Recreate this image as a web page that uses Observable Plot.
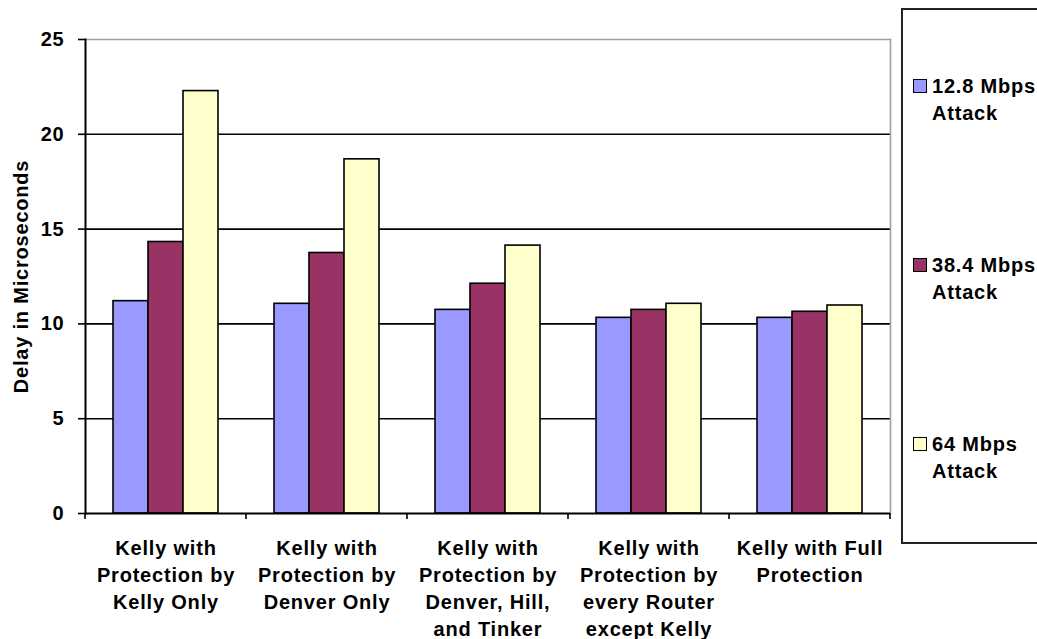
<!DOCTYPE html>
<html><head><meta charset="utf-8">
<script src="https://cdn.jsdelivr.net/npm/d3@7"></script>
<script src="https://cdn.jsdelivr.net/npm/@observablehq/plot@0.6"></script>
<style>
body{margin:0;background:#fff;font-family:"Liberation Sans",Arial,sans-serif;}
#wrap{position:relative;width:1037px;height:639px;overflow:hidden;background:#fff;}
#wrap svg text{letter-spacing:0.8px;}
#legend{position:absolute;left:901px;top:8px;width:160px;height:536px;border:2px solid #222;box-sizing:border-box;}
.entry{position:absolute;left:913px;font-size:20px;font-weight:bold;line-height:27px;color:#000;white-space:nowrap;letter-spacing:0.8px;}
.sw{position:absolute;left:0;top:6px;width:12px;height:12px;border:1.5px solid #000;}
.lab{position:absolute;left:19px;top:0;}
</style></head>
<body><div id="wrap"><div id="legend"></div></div>
<script>
const categories = [
  "Kelly with\nProtection by\nKelly Only",
  "Kelly with\nProtection by\nDenver Only",
  "Kelly with\nProtection by\nDenver, Hill,\nand Tinker",
  "Kelly with\nProtection by\nevery Router\nexcept Kelly",
  "Kelly with Full\nProtection"
];
const series = ["12.8 Mbps Attack", "38.4 Mbps Attack", "64 Mbps Attack"];
const legendLabels = ["12.8 Mbps\nAttack", "38.4 Mbps\nAttack", "64 Mbps\nAttack"];
const values128 = [11.2, 11.06, 10.74, 10.32, 10.32];
const values384 = [14.32, 13.74, 12.12, 10.74, 10.64];
const values64 = [22.28, 18.68, 14.13, 11.06, 10.97];
const colors = ["#9999FF", "#993366", "#FFFFCC"];
const yTicks = [0, 5, 10, 15, 20, 25];
const gridValues = [5, 10, 15, 20];
const legendCenters = [86, 265, 444];

const seriesValues = [values128, values384, values64];
const data = [];
categories.forEach((c, i) => series.forEach((s, j) => data.push({cat: c, series: s, value: seriesValues[j][i]})));

const plot = Plot.plot({
  width: 1037, height: 639,
  marginLeft: 84, marginRight: 147, marginTop: 39, marginBottom: 126,
  style: {fontFamily: "'Liberation Sans', Arial, sans-serif", fontSize: "20px", fontWeight: "bold", color: "#000", background: "#fff"},
  fx: {domain: categories, padding: 0},
  x: {domain: series, paddingInner: 0, paddingOuter: 0.74, axis: null},
  y: {domain: [0, 25]},
  color: {domain: series, range: colors},
  marks: [
    Plot.ruleY(gridValues, {stroke: "#000", strokeWidth: 1.6}),
    Plot.ruleY([25], {stroke: "#a0a0a0", strokeWidth: 1.6}),
    Plot.frame({anchor: "right", facetAnchor: "right", stroke: "#a0a0a0", strokeWidth: 1.6}),
    Plot.barY(data, {fx: "cat", x: "series", y: "value", fill: "series", stroke: "#000", strokeWidth: 1.6}),
    Plot.ruleY([0], {stroke: "#000", strokeWidth: 2}),
    Plot.frame({anchor: "left", facetAnchor: "left", stroke: "#000", strokeWidth: 2}),
    Plot.axisY({ticks: yTicks, tickSize: 7, tickPadding: 14, strokeWidth: 1.6, fontSize: 20,
      label: "Delay in Microseconds", labelAnchor: "center", labelArrow: "none", labelOffset: 72, fontWeight: "bold"}),
    Plot.axisFx({anchor: "bottom", tickSize: 0, tickPadding: 22, lineHeight: 1.35, label: null, fontSize: 20, fontWeight: "bold"})
  ]
});
document.getElementById("wrap").prepend(plot);

// band-boundary tick marks under the x axis, from the library's fx and y scales
const fx = plot.scale("fx");
const ys = plot.scale("y");
const y0 = ys.apply(0);
const edges = new Set();
categories.forEach(c => { const a = fx.apply(c); edges.add(a); edges.add(a + fx.bandwidth); });
const g = d3.select(plot).append("g").attr("stroke", "#000").attr("stroke-width", 1.6);
for (const e of edges) g.append("line").attr("x1", e).attr("x2", e).attr("y1", y0).attr("y2", y0 + 6);

// legend
const wrap = document.getElementById("wrap");
series.forEach((s, i) => {
  const d = document.createElement("div");
  d.className = "entry";
  d.style.top = (legendCenters[i] - 13.5) + "px";
  const sw = document.createElement("div");
  sw.className = "sw"; sw.style.background = colors[i];
  const lab = document.createElement("div");
  lab.className = "lab";
  lab.innerHTML = legendLabels[i].split("\n").join("<br>");
  d.appendChild(sw); d.appendChild(lab);
  wrap.appendChild(d);
});
</script>
</body></html>
